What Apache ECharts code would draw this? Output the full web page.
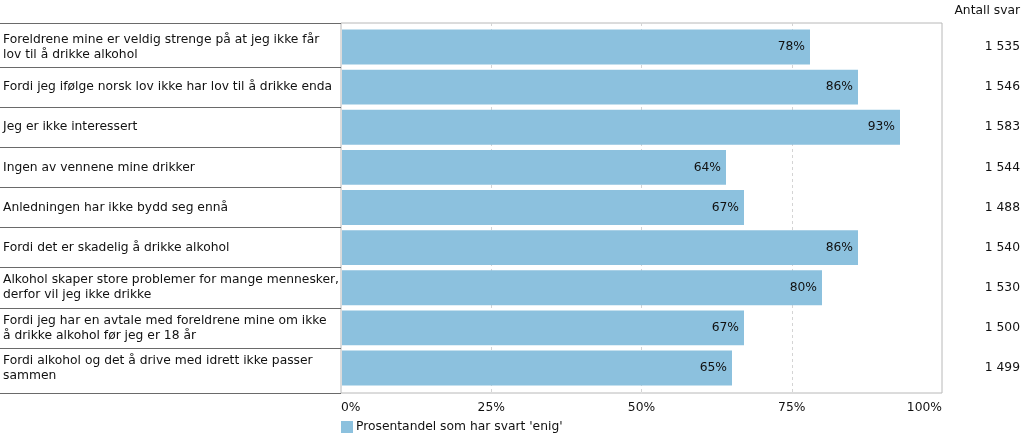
<!DOCTYPE html>
<html><head><meta charset="utf-8">
<script src="https://cdn.jsdelivr.net/npm/echarts@6/dist/echarts.min.js"></script>
<style>html,body{margin:0;padding:0;background:#fff}#c{width:1023px;height:438px}</style>
</head><body><div id="c"></div>
<script>
const categories = [
  "Foreldrene mine er veldig strenge på at jeg ikke får\nlov til å drikke alkohol",
  "Fordi jeg ifølge norsk lov ikke har lov til å drikke enda",
  "Jeg er ikke interessert",
  "Ingen av vennene mine drikker",
  "Anledningen har ikke bydd seg ennå",
  "Fordi det er skadelig å drikke alkohol",
  "Alkohol skaper store problemer for mange mennesker,\nderfor vil jeg ikke drikke",
  "Fordi jeg har en avtale med foreldrene mine om ikke\nå drikke alkohol før jeg er 18 år",
  "Fordi alkohol og det å drive med idrett ikke passer\nsammen"
];
const values = [78, 86, 93, 64, 67, 86, 80, 67, 65];
const counts = [1535, 1546, 1583, 1544, 1488, 1540, 1530, 1500, 1499];
const xTicks = [0, 25, 50, 75, 100];
const seriesName = "Prosentandel som har svart 'enig'";
const countHeader = "Antall svar";

const FONT = "Verdana, 'DejaVu Sans', sans-serif";
const FS = 12.3;
const TXT = '#111111';
const fmtCount = v => String(v).replace(/\B(?=(\d{3})+(?!\d))/g, ' ');

const chart = echarts.init(document.getElementById('c'));
chart.setOption({
  animation: false,
  textStyle: {fontFamily: FONT, fontSize: FS, color: TXT},
  title: {text: countHeader, right: 3, top: 5, padding: 0,
    textStyle: {fontFamily: FONT, fontSize: FS, fontWeight: 'normal', color: TXT}},
  legend: {left: 341, top: 421, padding: 0, itemWidth: 12, itemHeight: 12,
    icon: 'rect', data: [seriesName],
    textStyle: {fontFamily: FONT, fontSize: FS, color: TXT, padding: [0,0,0,-2]}},
  grid: [
    {left: 341, right: 81, top: 23, height: 370, show: true, borderColor: '#b8b8b8', borderWidth: 1},
    {left: 341, right: 81, top: 27, height: 361},
    {left: 0, width: 341, top: 27, height: 361},
    {left: 0, width: 341, top: 23, height: 370}
  ],
  xAxis: [
    {gridIndex: 0, type: 'value', min: xTicks[0], max: xTicks[xTicks.length-1], interval: 25,
      axisLine: {show: false}, axisTick: {show: false},
      splitLine: {show: true, showMinLine: false, showMaxLine: false, lineStyle: {color: '#d4d4d4', type: [3, 3]}},
      axisLabel: {formatter: '{value}%', margin: 9, alignMinLabel: 'left', alignMaxLabel: 'right',
        fontFamily: FONT, fontSize: FS, color: TXT}},
    {gridIndex: 1, type: 'value', min: 0, max: 100, show: false},
    {gridIndex: 2, type: 'value', show: false},
    {gridIndex: 3, type: 'value', show: false}
  ],
  yAxis: [
    {gridIndex: 0, type: 'category', data: [''], show: false},
    {gridIndex: 1, type: 'category', data: categories, inverse: true,
      axisLine: {show: false}, axisTick: {show: false}, splitLine: {show: false},
      axisLabel: {align: 'left', margin: 339, lineHeight: 15, fontFamily: FONT, fontSize: FS, color: TXT}},
    {gridIndex: 1, type: 'category', data: counts, inverse: true, position: 'right',
      axisLine: {show: false}, axisTick: {show: false}, splitLine: {show: false},
      axisLabel: {align: 'right', margin: 78, formatter: v => fmtCount(v), fontFamily: FONT, fontSize: FS, color: TXT}},
    {gridIndex: 2, type: 'category', data: categories, inverse: true,
      axisLine: {show: false}, axisTick: {show: false}, axisLabel: {show: false},
      splitLine: {show: true, showMinLine: false, showMaxLine: false, interval: 0, lineStyle: {color: '#6a6a6a', width: 1}}},
    {gridIndex: 3, type: 'category', data: [''],
      axisLine: {show: false}, axisTick: {show: false}, axisLabel: {show: false},
      splitLine: {show: true, interval: 0, lineStyle: {color: '#6a6a6a', width: 1}}}
  ],
  series: [{
    name: seriesName, type: 'bar', xAxisIndex: 1, yAxisIndex: 1,
    data: values, barCategoryGap: '13%',
    itemStyle: {color: '#8cc1de'},
    label: {show: true, position: 'insideRight', distance: 5, formatter: '{c}%',
      fontFamily: FONT, fontSize: FS, color: TXT}
  }]
});
</script></body></html>
